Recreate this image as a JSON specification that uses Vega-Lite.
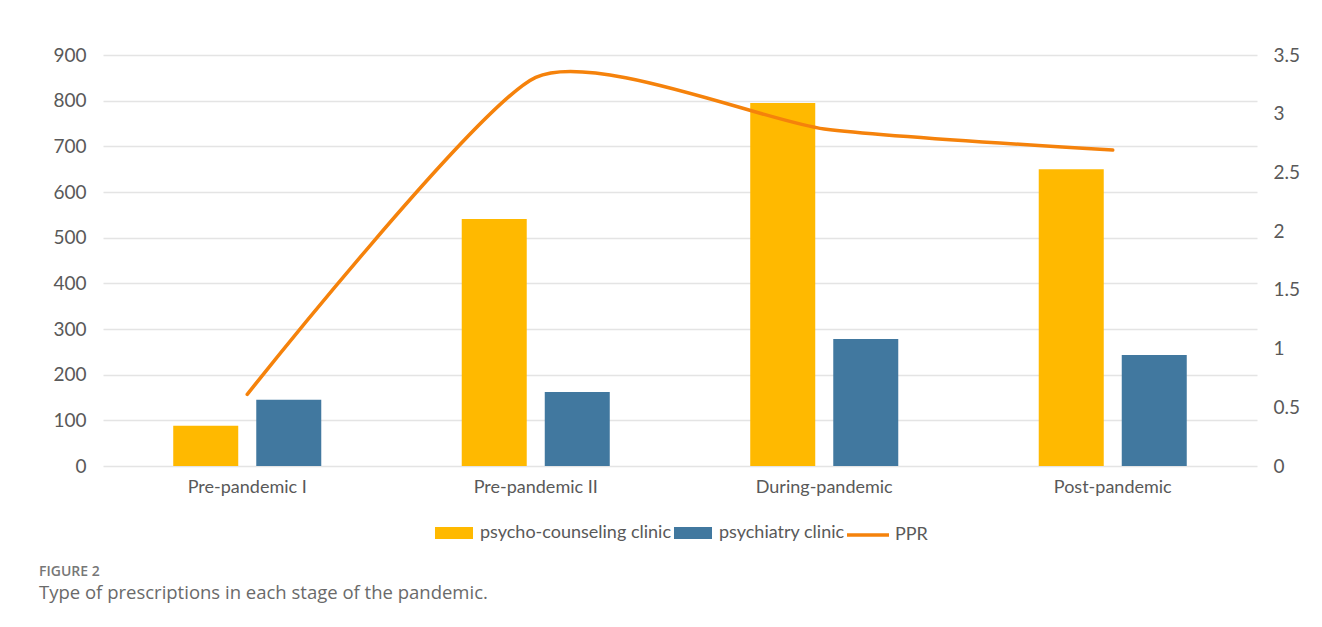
{
  "$schema": "https://vega.github.io/schema/vega-lite/v6.json",
  "width": 1154,
  "height": 411,
  "autosize": {"type": "none"},
  "padding": {"left": 103, "top": 55, "right": 65, "bottom": 161},
  "background": "white",
  "data": {
    "values": [
      {"stage": "Pre-pandemic I", "psycho-counseling clinic": 88, "psychiatry clinic": 145, "ppr": 0.61},
      {"stage": "Pre-pandemic II", "psycho-counseling clinic": 541, "psychiatry clinic": 162, "ppr": 3.31},
      {"stage": "During-pandemic", "psycho-counseling clinic": 795, "psychiatry clinic": 278, "ppr": 2.87},
      {"stage": "Post-pandemic", "psycho-counseling clinic": 650, "psychiatry clinic": 243, "ppr": 2.69}
    ]
  },
  "title": {
    "text": "FIGURE 2",
    "subtitle": "Type of prescriptions in each stage of the pandemic.",
    "orient": "bottom",
    "anchor": "start",
    "frame": "group",
    "dx": -64,
    "offset": 21,
    "font": "Open Sans",
    "fontSize": 14,
    "fontWeight": 600,
    "color": "#777777",
    "subtitleFont": "Open Sans",
    "subtitleFontSize": 18.5,
    "subtitleColor": "#6a6a6a",
    "subtitlePadding": 5
  },
  "encoding": {
    "x": {
      "field": "stage",
      "type": "nominal",
      "sort": null,
      "scale": {"paddingInner": 0, "paddingOuter": 0},
      "axis": {
        "title": null,
        "labelAngle": 0,
        "ticks": false,
        "domain": false,
        "labelFont": "Lato",
        "labelFontSize": 18,
        "labelColor": "#595959",
        "labelPadding": 12
      }
    }
  },
  "layer": [
    {
      "transform": [
        {"fold": ["psycho-counseling clinic", "psychiatry clinic"], "as": ["clinic", "count"]}
      ],
      "mark": {"type": "bar"},
      "encoding": {
        "xOffset": {
          "field": "clinic",
          "type": "nominal",
          "sort": ["psycho-counseling clinic", "psychiatry clinic"],
          "scale": {"paddingInner": 0.217, "paddingOuter": 0.846}
        },
        "y": {
          "field": "count",
          "type": "quantitative",
          "scale": {"domain": [0, 900], "nice": false},
          "axis": {
            "title": null,
            "orient": "left",
            "values": [0, 100, 200, 300, 400, 500, 600, 700, 800, 900],
            "format": "d",
            "ticks": false,
            "domain": false,
            "grid": true,
            "gridColor": "#e4e4e4",
            "gridWidth": 1.3,
            "labelFont": "Lato",
            "labelFontSize": 19,
            "labelColor": "#595959",
            "labelPadding": 17
          }
        },
        "color": {
          "field": "clinic",
          "type": "nominal",
          "sort": ["psycho-counseling clinic", "psychiatry clinic"],
          "scale": {"domain": ["psycho-counseling clinic", "psychiatry clinic"], "range": ["#FFB900", "#41789F"]},
          "legend": {
            "title": null,
            "orient": "bottom",
            "direction": "horizontal",
            "offset": 16,
            "symbolType": "M-0.905,-0.29H0.905V0.29H-0.905Z",
            "symbolSize": 1764,
            "symbolStrokeWidth": 0,
            "symbolOpacity": 1,
            "labelFont": "Lato",
            "labelFontSize": 18,
            "labelColor": "#595959",
            "labelOffset": 5,
            "labelLimit": 400,
            "columnPadding": 1
          }
        }
      }
    },
    {
      "mark": {"type": "line", "interpolate": "cardinal", "tension": 0.4, "strokeWidth": 3.5, "strokeCap": "round"},
      "encoding": {
        "y": {
          "field": "ppr",
          "type": "quantitative",
          "scale": {"domain": [0, 3.5], "nice": false},
          "axis": {
            "title": null,
            "orient": "right",
            "values": [0, 0.5, 1, 1.5, 2, 2.5, 3, 3.5],
            "format": "~g",
            "ticks": false,
            "domain": false,
            "grid": false,
            "labelFont": "Lato",
            "labelFontSize": 19,
            "labelColor": "#595959",
            "labelPadding": 16
          }
        },
        "stroke": {
          "datum": "PPR",
          "type": "nominal",
          "scale": {"domain": ["PPR"], "range": ["#F5820B"]},
          "legend": {
            "title": null,
            "orient": "bottom",
            "offset": 16,
            "symbolType": "stroke",
            "symbolSize": 1764,
            "symbolStrokeWidth": 3.5,
            "labelFont": "Lato",
            "labelFontSize": 18,
            "labelColor": "#595959",
            "labelOffset": 4
          }
        }
      }
    }
  ],
  "resolve": {"scale": {"y": "independent"}},
  "config": {
    "view": {"stroke": null},
    "legend": {"layout": {"bottom": {"anchor": "middle", "direction": "horizontal", "margin": 0}}}
  }
}
